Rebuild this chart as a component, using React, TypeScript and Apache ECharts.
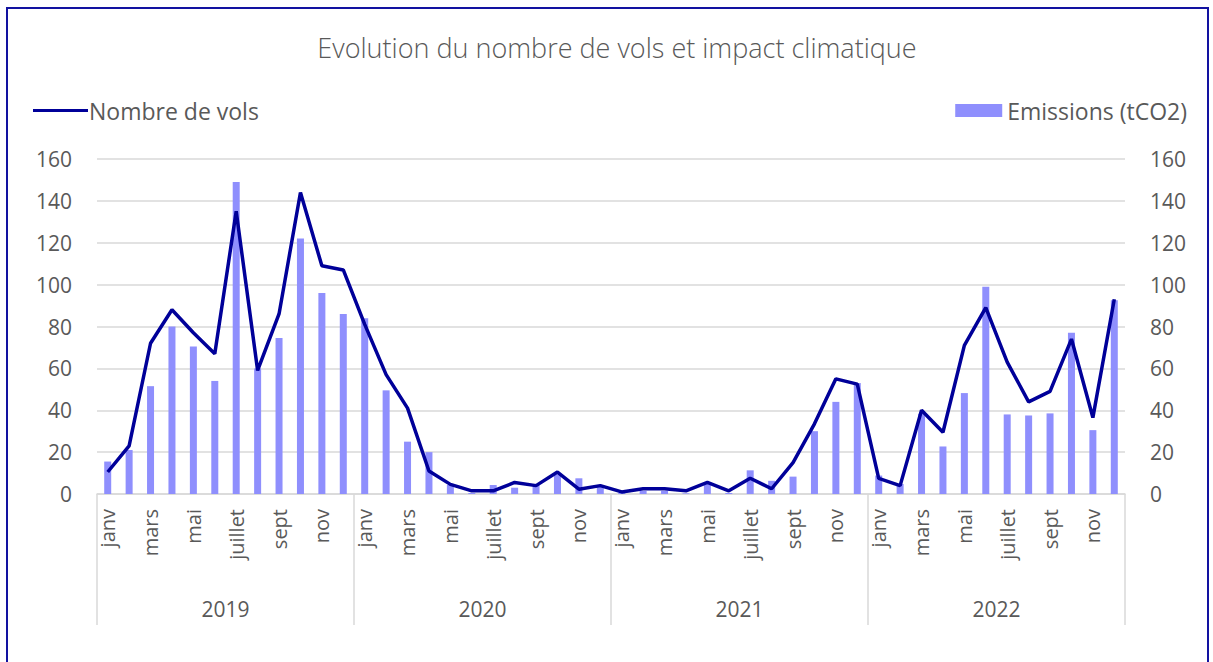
import React, { useEffect, useRef } from "react";
import * as echarts from "echarts";

const monthNames = ["janv", "févr", "mars", "avr", "mai", "juin", "juillet", "août", "sept", "oct", "nov", "déc"];
const years = ["2019", "2020", "2021", "2022"];

const vols2019 = [10.5, 23, 72, 88, 77, 67, 135, 59, 86, 144, 109, 107];
const vols2020 = [81, 57, 41, 11, 4.6, 1.5, 1.5, 5.5, 4, 10.5, 2.3, 4];
const vols2021 = [1, 2.5, 2.5, 1.5, 5.5, 1.5, 7.5, 2.5, 15, 33.5, 55, 52.5];
const vols2022 = [7.5, 4, 40, 29.5, 71, 89, 63, 44, 49, 74, 36.5, 93];

const emis2019 = [15.5, 21, 51.5, 80, 70.5, 54, 149, 60, 74.5, 122, 96, 86];
const emis2020 = [84, 49.5, 25, 20, 4.3, 0.5, 4.3, 3, 4.6, 9.4, 7.5, 3.8];
const emis2021 = [0.5, 1.5, 1.5, 0.3, 4.7, 0.5, 11.3, 6.3, 8.3, 30, 44, 53];
const emis2022 = [8.8, 4.8, 38.3, 22.7, 48.2, 99, 38, 37.5, 38.5, 77, 30.5, 92.5];

const yTicks = { min: 0, max: 160, interval: 20 };

const categories = years.flatMap(() => monthNames.map((m) => m));
const volsData = [...vols2019, ...vols2020, ...vols2021, ...vols2022];
const emisData = [...emis2019, ...emis2020, ...emis2021, ...emis2022];

const FONT = "'Open Sans', 'Noto Sans', sans-serif";
const GREY = "#595959";

export default function App() {
  const ref = useRef<HTMLDivElement>(null);
  useEffect(() => {
    if (!ref.current) return;
    const chart = echarts.init(ref.current, null, { renderer: "svg" });
    chart.setOption({
      animation: false,
      backgroundColor: "#ffffff",
      title: {
        text: "Evolution du nombre de vols et impact climatique",
        left: 612,
        textAlign: "center",
        top: 29,
        textStyle: { fontFamily: FONT, fontSize: 27, fontWeight: 300, color: GREY },
      },
      legend: [
        {
          data: ["Nombre de vols"],
          left: 28,
          top: 94,
          icon: "rect",
          itemWidth: 55,
          itemHeight: 3,
          itemGap: 0,
          textStyle: { fontFamily: FONT, fontSize: 23, color: GREY, padding: [0, 0, 0, -4] },
        },
        {
          data: ["Emissions (tCO2)"],
          right: 21,
          top: 94,
          icon: "rect",
          itemWidth: 47,
          itemHeight: 13,
          textStyle: { fontFamily: FONT, fontSize: 23, color: GREY },
        },
      ],
      graphic: [
        {
          type: "rect",
          shape: { x: 7, y: 8, width: 1201, height: 700 },
          style: { fill: "none", stroke: "#1212a0", lineWidth: 2 },
          silent: true,
        },
      ],
      grid: { left: 97, right: 88, top: 159, bottom: 168, containLabel: false },
      xAxis: [
        {
          type: "category",
          data: categories,
          position: "bottom",
          axisLine: { show: true, lineStyle: { color: "#d9d9d9", width: 1.5 } },
          axisTick: { show: false },
          axisLabel: {
            interval: 1,
            rotate: 90,
            margin: 15,
            fontFamily: FONT,
            fontSize: 20,
            color: GREY,
          },
        },
        {
          type: "category",
          data: years,
          position: "bottom",
          axisLine: { show: false },
          axisTick: { show: true, length: 131, lineStyle: { color: "#d9d9d9", width: 1.5 } },
          axisLabel: {
            interval: 0,
            margin: 104,
            fontFamily: FONT,
            fontSize: 21,
            color: GREY,
          },
        },
      ],
      yAxis: [
        {
          type: "value",
          ...yTicks,
          position: "left",
          axisLine: { show: false },
          axisTick: { show: false },
          splitLine: { show: true, lineStyle: { color: "#d9d9d9", width: 1.5 } },
          axisLabel: { margin: 25, fontFamily: FONT, fontSize: 21, color: GREY },
        },
        {
          type: "value",
          ...yTicks,
          position: "right",
          axisLine: { show: false },
          axisTick: { show: false },
          splitLine: { show: false },
          axisLabel: { margin: 25, fontFamily: FONT, fontSize: 21, color: GREY },
        },
      ],
      series: [
        {
          name: "Emissions (tCO2)",
          type: "bar",
          xAxisIndex: 0,
          yAxisIndex: 1,
          data: emisData,
          barWidth: 7,
          itemStyle: { color: "#8f8ffd" },
        },
        {
          name: "Nombre de vols",
          type: "line",
          xAxisIndex: 0,
          yAxisIndex: 0,
          data: volsData,
          showSymbol: false,
          symbol: "none",
          lineStyle: { color: "#000099", width: 3.5 },
          itemStyle: { color: "#000099" },
          z: 5,
        },
      ],
    });
    return () => chart.dispose();
  }, []);
  return (
    <div
      ref={ref}
      style={{ position: "fixed", left: 0, top: 0, width: 1213, height: 662 }}
    />
  );
}
